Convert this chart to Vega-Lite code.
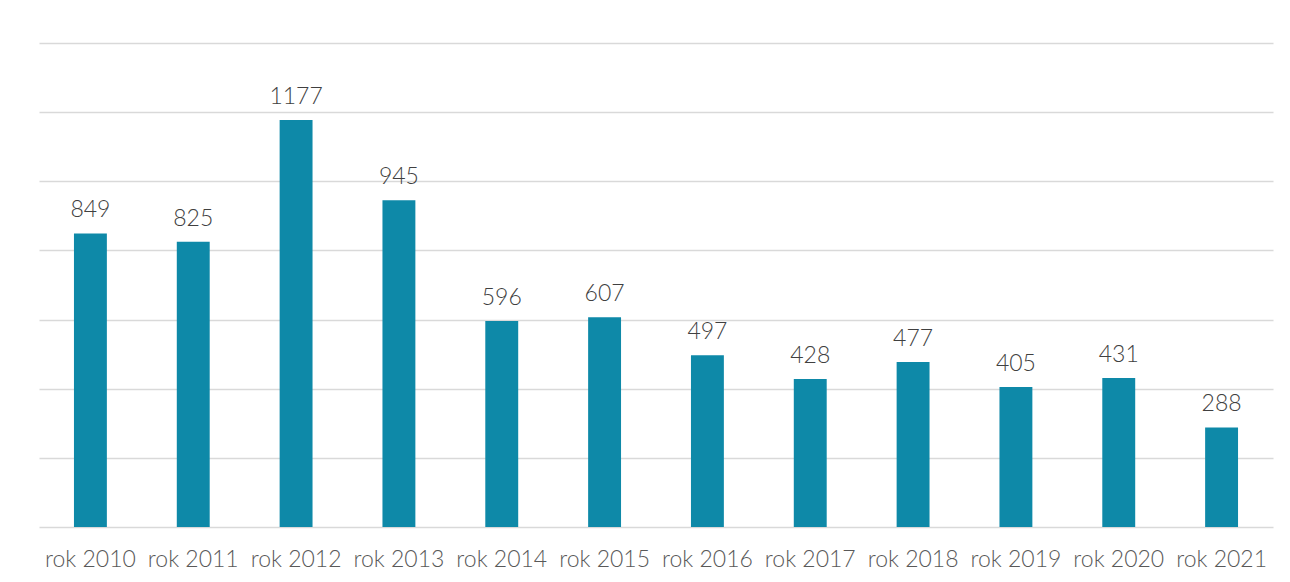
{
  "$schema": "https://vega.github.io/schema/vega-lite/v6.json",
  "autosize": "none",
  "width": 1234,
  "height": 484,
  "padding": {"left": 39, "top": 43, "right": 17, "bottom": 55},
  "background": "white",
  "config": {"view": {"stroke": null}, "font": "Lato"},
  "data": {"values": [
    {"rok": "rok 2010", "v": 849},
    {"rok": "rok 2011", "v": 825},
    {"rok": "rok 2012", "v": 1177},
    {"rok": "rok 2013", "v": 945},
    {"rok": "rok 2014", "v": 596},
    {"rok": "rok 2015", "v": 607},
    {"rok": "rok 2016", "v": 497},
    {"rok": "rok 2017", "v": 428},
    {"rok": "rok 2018", "v": 477},
    {"rok": "rok 2019", "v": 405},
    {"rok": "rok 2020", "v": 431},
    {"rok": "rok 2021", "v": 288}
  ]},
  "encoding": {
    "x": {"field": "rok", "type": "nominal", "sort": null,
      "scale": {"paddingInner": 0.68, "paddingOuter": 0.34},
      "axis": {"title": null, "labelAngle": 0, "ticks": false, "domain": false,
        "labelFontSize": 23, "labelColor": "#595959", "labelPadding": 21, "labelFont": "Lato", "labelFontWeight": 300}},
    "y": {"field": "v", "type": "quantitative",
      "scale": {"domain": [0, 1400], "nice": false},
      "axis": {"title": null, "labels": false, "ticks": false, "domain": false,
        "values": [0, 200, 400, 600, 800, 1000, 1200, 1400],
        "gridColor": "#d9d9d9", "gridWidth": 1.5}}
  },
  "layer": [
    {"mark": {"type": "bar", "color": "#0e89a8"}},
    {"mark": {"type": "text", "baseline": "alphabetic", "dy": -16, "fontSize": 23, "fontWeight": 300, "color": "#404040", "font": "Lato"},
     "encoding": {"text": {"field": "v", "type": "quantitative"}}}
  ]
}
